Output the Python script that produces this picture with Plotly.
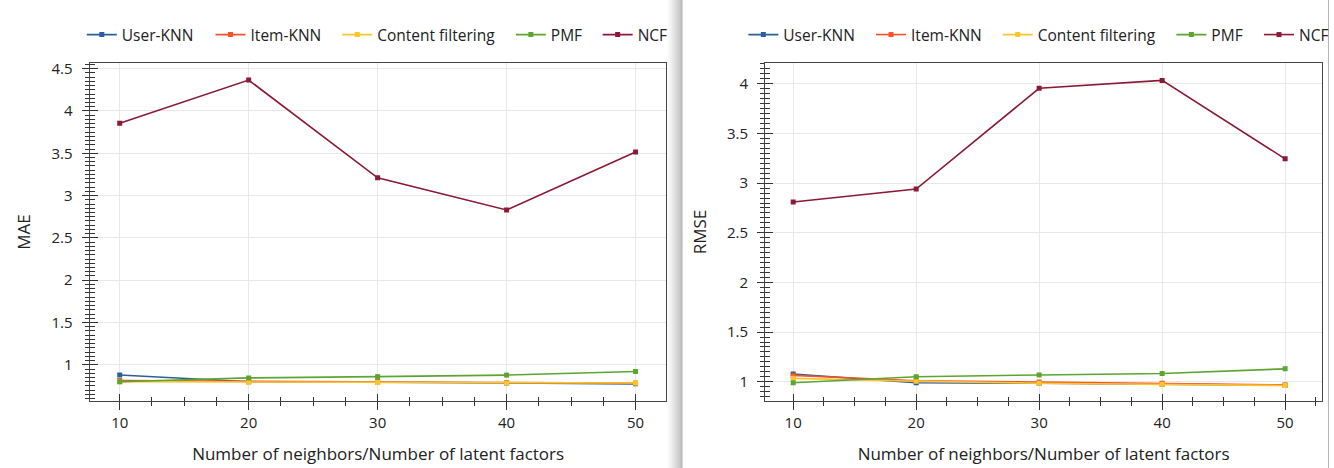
import plotly.graph_objects as go

# ---------------- data ----------------
neighbors = [10, 20, 30, 40, 50]
series_names = ["User-KNN", "Item-KNN", "Content filtering", "PMF", "NCF"]
series_colors = ["#2c5f9a", "#f5522a", "#fcc52c", "#5da532", "#8a1a35"]

mae_user_knn = [0.88, 0.80, 0.795, 0.785, 0.775]
mae_item_knn = [0.815, 0.805, 0.80, 0.79, 0.785]
mae_content = [0.80, 0.795, 0.79, 0.785, 0.785]
mae_pmf = [0.80, 0.845, 0.86, 0.878, 0.92]
mae_ncf = [3.855, 4.365, 3.21, 2.83, 3.515]

rmse_user_knn = [1.077, 0.99, 0.985, 0.975, 0.965]
rmse_item_knn = [1.064, 1.01, 0.997, 0.985, 0.968]
rmse_content = [1.034, 1.005, 0.985, 0.975, 0.962]
rmse_pmf = [0.99, 1.05, 1.068, 1.083, 1.13]
rmse_ncf = [2.81, 2.94, 3.955, 4.035, 3.245]

mae_series = [mae_user_knn, mae_item_knn, mae_content, mae_pmf, mae_ncf]
rmse_series = [rmse_user_knn, rmse_item_knn, rmse_content, rmse_pmf, rmse_ncf]

W, H = 1334, 468
FONT = "Open Sans"
TXT = "#222222"

def px_x(p):
    return p / W

def px_y(p):
    return (H - p) / H

# legend entry start positions (pixels) for each panel
legend_left_px = [87, 216, 343, 517, 604]
legend_right_px = [750, 878, 1005, 1179, 1267]

fig = go.Figure()

legend_ids = []
for i, (name, color, vals) in enumerate(zip(series_names, series_colors, mae_series)):
    lid = "legend" if i == 0 else f"legend{i + 1}"
    legend_ids.append((lid, legend_left_px[i]))
    fig.add_trace(go.Scatter(
        x=neighbors, y=vals, name=name, mode="lines+markers",
        line=dict(color=color, width=1.6),
        marker=dict(symbol="square", size=5, color=color),
        xaxis="x", yaxis="y", legend=lid))

for i, (name, color, vals) in enumerate(zip(series_names, series_colors, rmse_series)):
    lid = f"legend{i + 6}"
    legend_ids.append((lid, legend_right_px[i]))
    fig.add_trace(go.Scatter(
        x=neighbors, y=vals, name=name, mode="lines+markers",
        line=dict(color=color, width=1.6),
        marker=dict(symbol="square", size=5, color=color),
        xaxis="x2", yaxis="y2", legend=lid))

# dummy traces that activate overlay axes (inside ticks -> cross ticks)
fig.add_trace(go.Scatter(x=[None], y=[None], xaxis="x3", yaxis="y3",
                         showlegend=False, hoverinfo="skip"))
fig.add_trace(go.Scatter(x=[None], y=[None], xaxis="x4", yaxis="y4",
                         showlegend=False, hoverinfo="skip"))

left_dom = [px_x(90), px_x(668)]
right_dom = [px_x(767), px_x(1325)]
y_dom = [px_y(401), px_y(63)]

xr_left = [7.68, 52.4]
xr_right = [7.73, 53.0]
yr_left = [0.572, 4.567]
yr_right = [0.806, 4.21]

tickfont = dict(family=FONT, size=15, color=TXT)
titlefont = dict(family=FONT, size=17, color=TXT)

def xaxis_main(dom, rng, anchor):
    return dict(domain=dom, range=rng, anchor=anchor, automargin=False,
                tickmode="array", tickvals=neighbors, ticktext=[str(v) for v in neighbors],
                ticks="outside", ticklen=8, tickwidth=1, tickcolor="#333",
                minor=dict(dtick=2.5, tick0=0, ticks="outside", ticklen=4, tickcolor="#333", showgrid=False),
                showgrid=True, gridcolor="#e8e8e8", gridwidth=1,
                showline=True, linecolor="#444", linewidth=1.3, mirror=True,
                zeroline=False, tickfont=tickfont,
                title=dict(text="Number of neighbors/Number of latent factors",
                           font=titlefont, standoff=16))

def yaxis_main(dom, rng, anchor, title):
    return dict(domain=dom, range=rng, anchor=anchor, automargin=False,
                tick0=0, dtick=0.5,
                ticks="outside", ticklen=7, tickwidth=1, tickcolor="#333",
                ticklabelstandoff=6,
                minor=dict(dtick=0.05, tick0=0, ticks="outside", ticklen=4, tickcolor="#333", showgrid=False),
                showgrid=True, gridcolor="#e8e8e8", gridwidth=1,
                showline=True, linecolor="#444", linewidth=1.3, mirror=True,
                zeroline=False, tickfont=tickfont,
                title=dict(text=title, font=titlefont, standoff=16))

def xaxis_over(dom, rng, anchor, over):
    return dict(domain=dom, range=rng, anchor=anchor, overlaying=over, automargin=False,
                tickmode="array", tickvals=neighbors, showticklabels=False,
                ticks="inside", ticklen=7, tickwidth=1, tickcolor="#333",
                minor=dict(dtick=2.5, tick0=0, ticks="inside", ticklen=4, tickcolor="#333", showgrid=False),
                showgrid=False, showline=False, zeroline=False)

def yaxis_over(dom, rng, anchor, over):
    return dict(domain=dom, range=rng, anchor=anchor, overlaying=over, automargin=False,
                tick0=0, dtick=0.5, showticklabels=False,
                ticks="inside", ticklen=8, tickwidth=1, tickcolor="#333",
                minor=dict(dtick=0.05, tick0=0, ticks="inside", ticklen=5, tickcolor="#333", showgrid=False),
                showgrid=False, showline=False, zeroline=False)

legend_common = dict(orientation="h", yanchor="middle", xanchor="left",
                     font=dict(family=FONT, size=15.5, color=TXT),
                     bgcolor="rgba(0,0,0,0)", borderwidth=0,
                     itemwidth=30, tracegroupgap=0)

legend_layout = {}
for lid, xpx in legend_ids:
    legend_layout[lid] = dict(x=px_x(xpx - 5), y=px_y(35), **legend_common)

# shadow / separator between the two screenshots
shapes = []
grad = ["#fbfbfb", "#f6f6f6", "#f1f1f1", "#ececec", "#e7e7e7", "#e1e1e1",
        "#dbdbdb", "#d5d5d5", "#cfcfcf", "#c9c9c9", "#c3c3c3", "#bdbdbd",
        "#b7b7b7", "#b1b1b1"]
for i, c in enumerate(grad):
    shapes.append(dict(type="rect", xref="paper", yref="paper",
                       x0=px_x(669 + i), x1=px_x(670 + i), y0=0, y1=1,
                       fillcolor=c, line=dict(width=0), layer="below"))
shapes.append(dict(type="line", xref="paper", yref="paper",
                   x0=px_x(683.5), x1=px_x(683.5), y0=0, y1=1,
                   line=dict(color="#a0a0a0", width=1)))
shapes.append(dict(type="line", xref="paper", yref="paper",
                   x0=px_x(1331.5), x1=px_x(1331.5), y0=0, y1=1,
                   line=dict(color="#b5b5b5", width=1)))

fig.update_layout(
    width=W, height=H,
    margin=dict(l=0, r=0, t=0, b=0),
    paper_bgcolor="white", plot_bgcolor="white",
    font=dict(family=FONT, color=TXT),
    showlegend=True,
    xaxis=xaxis_main(left_dom, xr_left, "y"),
    yaxis=yaxis_main(y_dom, yr_left, "x", "MAE"),
    xaxis2=xaxis_main(right_dom, xr_right, "y2"),
    yaxis2=yaxis_main(y_dom, yr_right, "x2", "RMSE"),
    xaxis3=xaxis_over(left_dom, xr_left, "y3", "x"),
    yaxis3=yaxis_over(y_dom, yr_left, "x3", "y"),
    xaxis4=xaxis_over(right_dom, xr_right, "y4", "x2"),
    yaxis4=yaxis_over(y_dom, yr_right, "x4", "y2"),
    shapes=shapes,
    hovermode=False,
    **legend_layout,
)

fig.write_html("out.html")
